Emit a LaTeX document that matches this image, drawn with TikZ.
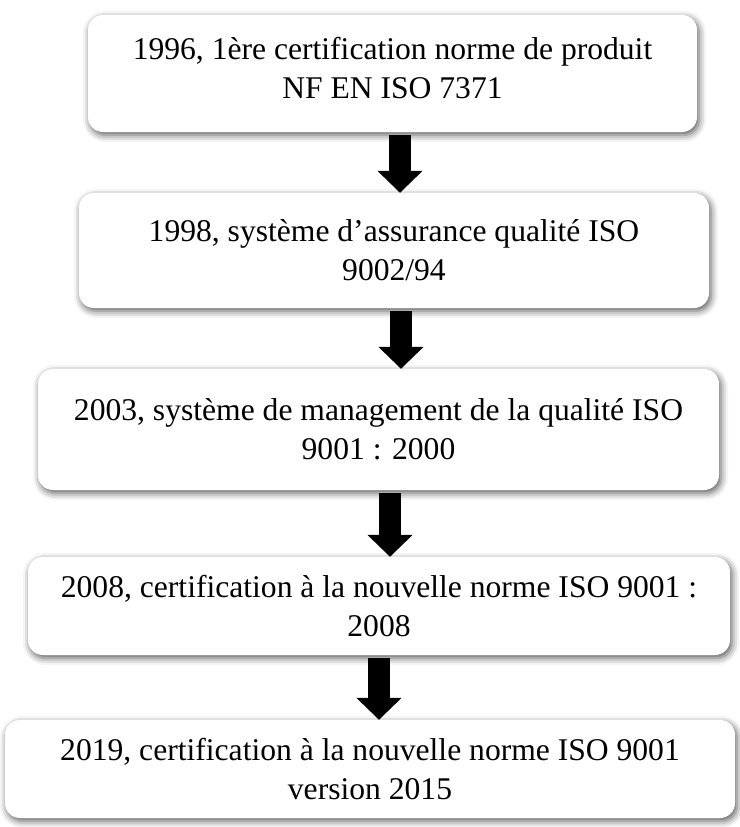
\documentclass[tikz,border=0pt]{standalone}
\usepackage{fontspec}
\setmainfont{Liberation Serif}
\usetikzlibrary{arrows.meta,shadows.blur}

\begin{document}
\begin{tikzpicture}[x=1pt,y=-1pt,
  stage/.style={fill=white, rounded corners=15pt, inner sep=0pt,
    align=center, font=\fontsize{31.6}{39}\selectfont,
    blur shadow={shadow xshift=2pt, shadow yshift=-3pt,
      shadow blur radius=7pt, shadow opacity=65}},
  flow/.style={line width=22pt, -{Triangle[width=44pt,length=22pt]}}]
  \useasboundingbox (0,0) rectangle (739,827);

  % certification milestones
  \node[stage, minimum width=609pt, minimum height=117pt] (b1) at (392.5,73.5)
    {1996, 1ère certification norme de produit\\NF EN ISO 7371\\[-27pt]\mbox{}};
  \node[stage, minimum width=630pt, minimum height=115pt] (b2) at (394,250.5)
    {1998, système d’assurance qualité ISO\\9002/94};
  \node[stage, minimum width=681pt, minimum height=121pt] (b3) at (378.5,429.5)
    {2003, système de management de la qualité ISO\\9001 : 2000};
  \node[stage, minimum width=702pt, minimum height=98pt] (b4) at (379,606)
    {2008, certification à la nouvelle norme ISO 9001 :\\2008};
  \node[stage, minimum width=730pt, minimum height=98pt] (b5) at (370,769)
    {2019, certification à la nouvelle norme ISO 9001\\version 2015};

  % horizontal positions of the block arrows
  \coordinate (x1) at (400,0);
  \coordinate (x2) at (401,0);
  \coordinate (x3) at (390,0);
  \coordinate (x4) at (379,0);

  \draw[flow] ([yshift=-3pt]b1.south -| x1) -- (b2.north -| x1);
  \draw[flow] ([yshift=-3pt]b2.south -| x2) -- (b3.north -| x2);
  \draw[flow] ([yshift=-3pt]b3.south -| x3) -- (b4.north -| x3);
  \draw[flow] ([yshift=-3pt]b4.south -| x4) -- (b5.north -| x4);
\end{tikzpicture}
\end{document}
